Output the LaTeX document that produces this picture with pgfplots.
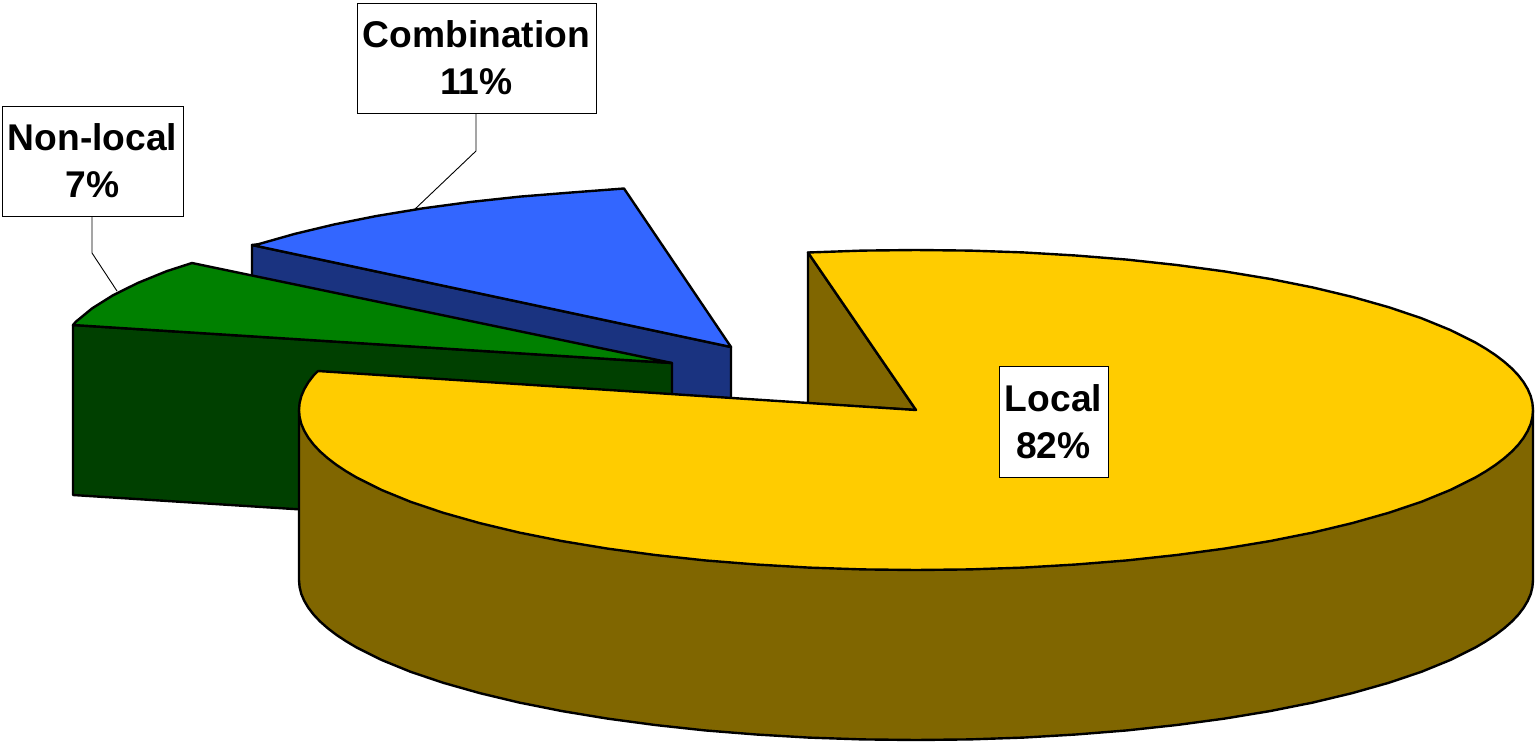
\documentclass[border=0pt]{standalone}
\usepackage{fontspec}
\setmainfont{Liberation Sans}
\usepackage{pgfplots}
\pgfplotsset{compat=1.18}
\definecolor{localtop}{HTML}{FFCC00}
\definecolor{localside}{HTML}{806600}
\definecolor{combotop}{HTML}{3366FF}
\definecolor{comboside}{HTML}{1A3380}
\definecolor{nonlocaltop}{HTML}{008000}
\definecolor{nonlocalside}{HTML}{004000}
\tikzset{
    slice/.style={draw=black, line width=2.4pt, line join=round},
    leader/.style={draw=black, line width=0.9pt},
    box/.style={draw=black, line width=0.9pt, fill=white, inner sep=0pt, align=center,
        font=\fontsize{37.2}{47}\selectfont\bfseries},
}
\begin{document}
\begin{tikzpicture}
\begin{axis}[
    scale only axis, width=1535pt, height=742pt,
    xmin=0, xmax=1535, ymin=0, ymax=742, y dir=reverse,
    axis lines=none, clip=false,
]
% keep the whole canvas in the bounding box, the axis itself is hidden
\path (rel axis cs:0,0) rectangle (rel axis cs:1,1);
% combination (11%)
\addplot[slice, fill=comboside] coordinates {(252,245) (731,347) (731,517) (252,415)} -- cycle;
\addplot[slice, fill=combotop] coordinates {
    (731,347) (252,245) (258.3,244.2) (294.7,233.9) (334.4,224.4) (377.1,215.9)
    (422.5,208.4) (470.2,202) (520,196.6) (571.3,192.5) (624,188.5)} -- cycle;
% non-local (7%)
\addplot[slice, fill=nonlocalside] coordinates {(73,325) (672,363) (672,533) (73,495)} -- cycle;
\addplot[slice, fill=nonlocaltop] coordinates {
    (672,363) (73,325) (76,321.6) (92.2,308.3) (112.8,295.4) (137.7,283) (166.6,271.2) (192,263)} -- cycle;
% local (82%): outer wall
\addplot[slice, fill=localside] coordinates {
    (299,410) (299,580)
    (299.6,587) (301.3,594) (304.3,600.9) (308.4,607.8) (313.6,614.6) (320,621.4) (327.6,628.1)
    (336.2,634.7) (346,641.2) (356.8,647.6) (381.7,660)
    (410.6,671.8) (443.3,682.8) (479.7,693.1) (519.4,702.6) (562.1,711.1) (607.5,718.6)
    (655.2,725) (705,730.4) (756.3,734.5) (808.9,737.6) (862.2,739.4) (916,740)
    (969.8,739.4) (1023.1,737.6) (1075.7,734.5) (1127,730.4) (1176.8,725) (1224.5,718.6)
    (1269.9,711.1) (1312.6,702.6) (1352.3,693.1) (1388.7,682.8) (1421.4,671.8) (1450.3,660)
    (1475.2,647.6) (1486,641.2) (1495.8,634.7) (1504.4,628.1) (1512,621.4) (1518.4,614.6)
    (1523.6,607.8) (1527.7,600.9) (1530.7,594) (1532.4,587) (1533,580)
    (1533,410)} -- cycle;
% local: inner wall
\addplot[slice, fill=localside] coordinates {(808,252.5) (916,410) (808,403.5)} -- cycle;
% local: top
\addplot[slice, fill=localtop] coordinates {
    (916,410) (808,252.5) (862.2,250.6) (916,250) (969.8,250.6) (1023.1,252.4) (1075.7,255.5)
    (1127,259.6) (1176.8,265) (1224.5,271.4) (1269.9,278.9) (1312.6,287.4) (1352.3,296.9)
    (1388.7,307.2) (1421.4,318.2) (1450.3,330) (1475.2,342.4) (1486,348.8) (1495.8,355.3)
    (1504.4,361.9) (1512,368.6) (1518.4,375.4) (1523.6,382.2) (1527.7,389.1) (1530.7,396.1)
    (1532.4,403) (1533,410) (1532.4,417) (1530.7,424) (1527.7,430.9) (1523.6,437.8)
    (1518.4,444.6) (1512,451.4) (1504.4,458.1) (1495.8,464.7) (1486,471.2)
    (1475.2,477.6) (1450.3,490) (1421.4,501.8) (1388.7,512.8) (1352.3,523.1)
    (1312.6,532.6) (1269.9,541.1) (1224.5,548.6) (1176.8,555) (1127,560.4) (1075.7,564.5)
    (1023.1,567.6) (969.8,569.4) (916,570) (862.2,569.4) (808.9,567.6) (756.3,564.5)
    (705,560.4) (655.2,555) (607.5,548.6) (562.1,541.1) (519.4,532.6) (479.7,523.1)
    (443.3,512.8) (410.6,501.8) (381.7,490) (356.8,477.6) (346,471.2) (336.2,464.7)
    (327.6,458.1) (320,451.4) (313.6,444.6) (308.4,437.8) (304.3,430.9) (301.3,424)
    (299.6,417) (299,410) (299.6,403) (301.3,396.1) (304.3,389.1) (308.4,382.2)
    (313.6,375.4) (318,371)} -- cycle;
% leader lines
\addplot[leader] coordinates {(476,113) (476,151) (414,210)};
\addplot[leader] coordinates {(92,216) (92,253) (117,291)};
% labels
\node[box, minimum width=239pt, minimum height=110pt] at (axis cs:476.5,58) {Combination\\11\%};
\node[box, minimum width=181pt, minimum height=110pt] at (axis cs:92.5,161) {Non-local\\7\%};
\node[box, minimum width=109pt, minimum height=111pt] at (axis cs:1053.5,421.5) {Local\\82\%};
\end{axis}
\end{tikzpicture}
\end{document}
